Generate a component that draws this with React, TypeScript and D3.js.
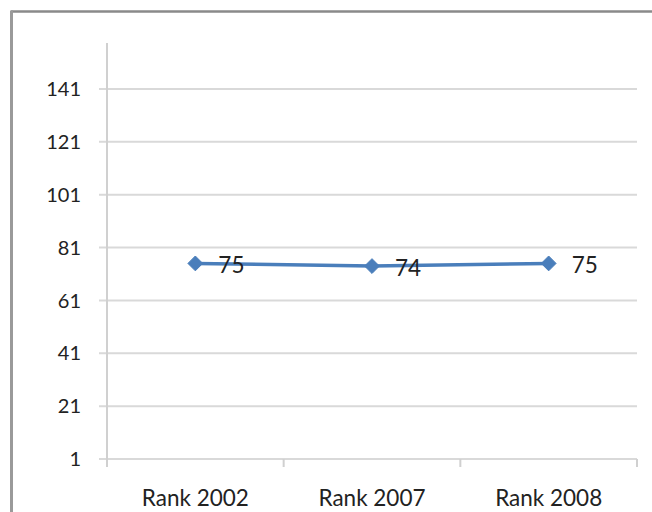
import { useEffect, useRef } from 'react'
import * as d3 from 'd3'

const categories = ['Rank 2002', 'Rank 2007', 'Rank 2008']
const values = [75, 74, 75]
const yTicks = [1, 21, 41, 61, 81, 101, 121, 141]

const W = 652
const H = 512
const FONT = 'Lato, Open Sans, sans-serif'

export default function App() {
  const svgRef = useRef<SVGSVGElement>(null)

  useEffect(() => {
    if (!svgRef.current) return
    const svg = d3.select(svgRef.current)
    svg.selectAll('*').remove()

    const left = 107
    const right = 637
    const top = 43
    const bottom = 459

    const x = d3.scaleBand<string>().domain(categories).range([left, right])
    const y = d3.scaleLinear().domain([1, 158.4]).range([bottom, top])

    // chart frame (top + left edges visible)
    svg.append('line')
      .attr('x1', 11).attr('x2', W).attr('y1', 11.5).attr('y2', 11.5)
      .attr('stroke', '#8a8a8a').attr('stroke-width', 2.5)
    svg.append('line')
      .attr('x1', 11.5).attr('x2', 11.5).attr('y1', 10.5).attr('y2', H)
      .attr('stroke', '#9a9a9a').attr('stroke-width', 3)

    // gridlines
    svg.append('g').selectAll('line')
      .data(yTicks)
      .join('line')
      .attr('x1', left - 8).attr('x2', right)
      .attr('y1', d => y(d)).attr('y2', d => y(d))
      .attr('stroke', '#d9d9d9').attr('stroke-width', 2)

    // y axis line
    svg.append('line')
      .attr('x1', left).attr('x2', left).attr('y1', top).attr('y2', bottom)
      .attr('stroke', '#d0d0d0').attr('stroke-width', 2)

    // x tick marks
    const xTicks = [left, ...categories.map(c => (x(c) ?? 0) + x.bandwidth())]
    svg.append('g').selectAll('line')
      .data(xTicks)
      .join('line')
      .attr('x1', d => d).attr('x2', d => d)
      .attr('y1', bottom).attr('y2', bottom + 8)
      .attr('stroke', '#d0d0d0').attr('stroke-width', 2)

    // y labels
    svg.append('g').selectAll('text')
      .data(yTicks)
      .join('text')
      .attr('x', 81)
      .attr('y', d => y(d))
      .attr('dy', '0.36em')
      .attr('text-anchor', 'end')
      .attr('font-family', FONT)
      .attr('font-size', 20)
      .attr('fill', '#222')
      .text(d => d)

    // x labels
    svg.append('g').selectAll('text')
      .data(categories)
      .join('text')
      .attr('x', d => (x(d) ?? 0) + x.bandwidth() / 2)
      .attr('y', 506)
      .attr('text-anchor', 'middle')
      .attr('font-family', FONT)
      .attr('font-size', 22.5)
      .attr('fill', '#222')
      .text(d => d)

    const cx = (i: number) => (x(categories[i]) ?? 0) + x.bandwidth() / 2

    // series line
    const line = d3.line<number>()
      .x((_, i) => cx(i))
      .y(d => y(d))
    svg.append('path')
      .datum(values)
      .attr('d', line)
      .attr('fill', 'none')
      .attr('stroke', '#4a7ebb')
      .attr('stroke-width', 3.5)
      .attr('stroke-linejoin', 'round')

    // diamond markers
    const diamond = d3.symbol().type(d3.symbolDiamond2).size(140)
    svg.append('g').selectAll('path')
      .data(values)
      .join('path')
      .attr('transform', (d, i) => `translate(${cx(i)},${y(d)})`)
      .attr('d', diamond)
      .attr('fill', '#4a7ebb')
      .attr('stroke', '#4a7ebb')
      .attr('stroke-width', 1)

    // data labels
    svg.append('g').selectAll('text')
      .data(values)
      .join('text')
      .attr('x', (_, i) => cx(i) + 23)
      .attr('y', d => y(d))
      .attr('dy', '0.42em')
      .attr('font-family', FONT)
      .attr('font-size', 22.5)
      .attr('fill', '#222')
      .text(d => d)
  }, [])

  return (
    <svg
      ref={svgRef}
      width={W}
      height={H}
      style={{ position: 'absolute', left: 0, top: 0, background: '#fff' }}
    />
  )
}
